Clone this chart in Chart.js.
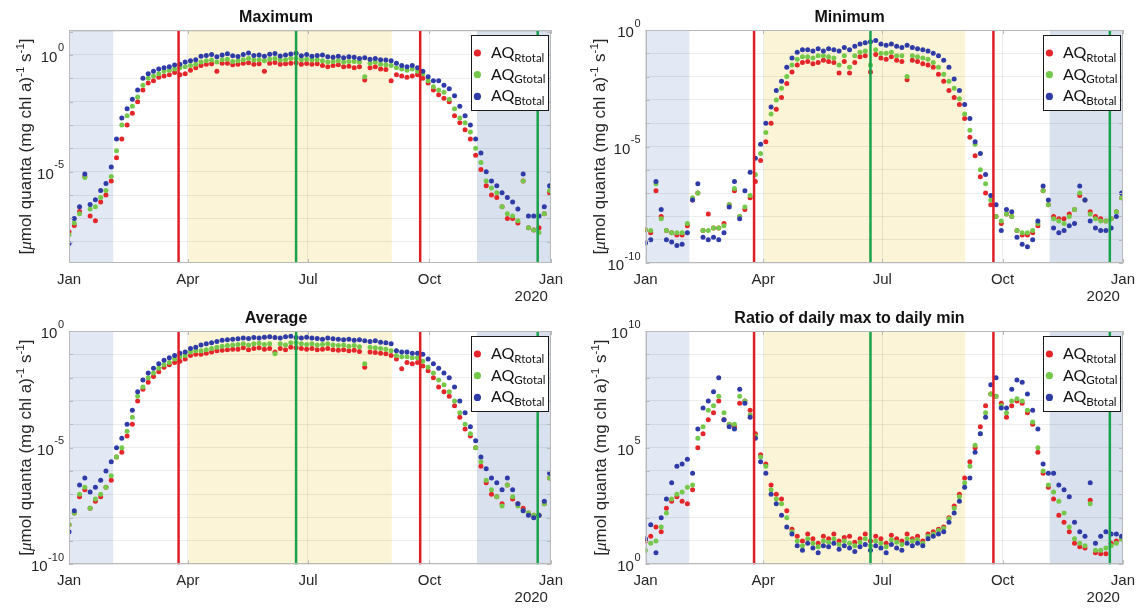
<!DOCTYPE html>
<html lang="en">
<head>
<meta charset="utf-8">
<title>AQ total - daily max, min, average and ratio</title>
<script src="https://cdn.jsdelivr.net/npm/chart.js@4.4.1/dist/chart.umd.min.js"></script>
<style>
  html, body { margin: 0; padding: 0; background: #fff; }
  #wrap { position: relative; width: 1143px; height: 608px; overflow: hidden; }
  #wrap canvas { position: absolute; }
</style>
</head>
<body>
<div id="wrap">
  <canvas id="cMax"></canvas>
  <canvas id="cMin"></canvas>
  <canvas id="cAvg"></canvas>
  <canvas id="cRat"></canvas>
</div>
<script>
// ---------------- data ----------------
// one reading every 4 days of 2019 (day 0 = 1 Jan), values are log10
const days = [];
for (let d = 0; d <= 364; d += 4) days.push(d);

// Maximum
const maxR = [
  -7.57,-7.3,-6.7,-5.2,-6.9,-7.1,-6.3,-6.0,-5.4,-4.4,
  -3.6,-3.0,-2.5,-2.0,-1.5,-1.2,-1.1,-0.95,-0.9,-0.85,
  -0.75,-0.85,-0.8,-0.65,-0.55,
  -0.45,-0.4,-0.38,-0.7,-0.35,-0.35,-0.42,-0.4,-0.35,-0.33,
  -0.4,-0.38,-0.7,-0.35,-0.32,-0.4,-0.38,-0.35,-0.33,-0.4,
  -0.36,-0.4,-0.38,-0.45,-0.5,-0.45,-0.42,-0.5,-0.48,-0.55,
  -0.5,-1.07,-0.55,-0.5,-0.6,-0.62,-1.1,
  -0.85,-0.9,-0.95,-0.9,-0.85,-1.0,-1.2,-1.5,-1.7,-1.85,
  -2.0,-2.6,-2.9,-3.2,-3.6,-4.3,-4.9,-5.6,-6.0,-6.1,
  -6.5,-7.0,-7.0,-7.2,-5.4,-7.4,-7.5,-7.4,-6.8,-5.9
];
const maxG = [
  -7.7,-7.2,-6.8,-5.25,-6.6,-6.5,-6.1,-5.8,-5.2,-4.1,
  -3.0,-2.6,-2.2,-1.8,-1.3,-1.0,-0.9,-0.8,-0.7,-0.65,
  -0.6,-0.55,-0.5,-0.45,-0.4,
  -0.3,-0.25,-0.22,-0.3,-0.2,-0.18,-0.28,-0.25,-0.2,-0.15,
  -0.22,-0.2,-0.25,-0.18,-0.15,-0.22,-0.2,-0.15,-0.15,-0.2,
  -0.18,-0.22,-0.2,-0.25,-0.3,-0.28,-0.25,-0.3,-0.28,-0.28,
  -0.3,-0.93,-0.35,-0.3,-0.4,-0.42,-0.45,
  -0.55,-0.6,-0.65,-0.6,-0.7,-0.8,-1.1,-1.36,-1.5,-1.6,
  -1.9,-2.3,-2.7,-2.9,-3.3,-4.0,-4.6,-5.4,-5.7,-5.9,
  -6.5,-6.8,-6.9,-7.1,-5.4,-7.4,-7.5,-7.6,-6.8,-5.8
];
const maxB = [
  -8.07,-7.0,-6.5,-5.1,-6.4,-6.2,-5.8,-5.5,-4.8,-3.6,
  -2.7,-2.3,-1.9,-1.5,-1.0,-0.8,-0.7,-0.6,-0.55,-0.5,
  -0.43,-0.4,-0.3,-0.25,-0.2,
  -0.05,-0.02,0.02,-0.08,0.0,0.05,-0.03,-0.06,0.02,0.08,
  -0.02,0.0,-0.05,0.03,0.06,-0.04,0.0,0.04,0.07,-0.03,
  0.02,-0.05,-0.02,0.0,-0.08,-0.1,-0.05,-0.12,-0.08,-0.1,
  -0.15,-0.12,-0.18,-0.15,-0.2,-0.22,-0.25,
  -0.35,-0.45,-0.5,-0.45,-0.55,-0.7,-0.93,-1.1,-1.1,-1.3,
  -1.45,-1.75,-2.2,-2.6,-3.0,-3.6,-4.2,-5.0,-5.4,-5.6,
  -5.9,-6.1,-6.3,-6.6,-5.1,-6.9,-6.9,-6.9,-6.5,-5.6
];

// Minimum
const minR = [
  -8.57,-8.7,-6.9,-8.0,-8.6,-8.7,-8.8,-8.8,-8.4,-7.3,
  -7.0,-8.6,-7.9,-8.5,-8.5,-8.3,-7.5,-6.9,-8.0,-7.7,
  -7.2,-6.5,-5.6,-4.8,-4.0,-3.4,-2.9,-2.3,-1.8,-1.5,
  -1.4,
  -1.35,-1.45,-1.4,-1.3,-1.35,-1.4,-1.85,-1.35,-1.85,-1.4,
  -1.15,-1.1,-1.8,-1.05,-1.2,-1.25,-1.15,
  -1.3,-1.35,-2.14,-1.3,-1.35,-1.45,-1.5,
  -1.6,-1.9,-2.2,-2.6,-2.9,-3.2,-3.8,-4.6,-5.4,-6.3,
  -7.0,-7.5,-8.0,-8.3,-7.9,-8.0,-8.6,-8.8,-8.8,-8.7,
  -8.4,-6.9,-7.5,-8.0,-8.1,-8.1,-7.9,-7.7,-7.1,-7.3,
  -7.8,-8.0,-8.1,-8.2,-8.1,-7.8,-7.2
];
const minG = [
  -8.57,-8.6,-6.6,-8.1,-8.6,-8.7,-8.7,-8.7,-8.3,-7.2,
  -7.0,-8.6,-8.6,-8.5,-8.5,-8.4,-7.5,-6.8,-8.0,-7.6,
  -7.1,-6.2,-5.3,-4.4,-3.6,-3.0,-2.5,-2.0,-1.5,-1.25,
  -1.15,
  -1.15,-1.2,-1.1,-1.1,-1.15,-1.2,-1.5,-1.1,-1.6,-1.1,
  -0.95,-0.9,-1.5,-0.85,-1.0,-1.0,-0.95,
  -1.1,-1.1,-2.0,-1.1,-1.15,-1.2,-1.25,
  -1.4,-1.6,-1.9,-2.2,-2.5,-2.95,-3.6,-4.3,-4.9,-6.0,
  -6.6,-7.3,-8.0,-8.2,-7.9,-8.0,-8.6,-8.7,-8.7,-8.6,
  -8.3,-6.9,-7.5,-8.1,-8.2,-8.3,-8.0,-7.7,-7.0,-7.3,
  -7.9,-8.1,-8.2,-8.2,-8.1,-7.8,-7.2
];
const minB = [
  -9.14,-9.0,-6.5,-7.7,-9.0,-9.1,-9.25,-9.2,-8.7,-7.3,
  -6.6,-8.9,-9.0,-8.9,-9.0,-8.7,-7.6,-6.5,-8.1,-6.9,
  -6.1,-5.5,-4.9,-4.0,-3.3,-2.6,-2.2,-1.6,-1.2,-0.95,
  -0.85,
  -0.85,-0.9,-0.8,-0.9,-0.8,-0.85,-0.9,-0.75,-0.85,-0.7,
  -0.6,-0.55,-0.5,-0.45,-0.6,-0.65,-0.6,
  -0.7,-0.75,-0.65,-0.75,-0.8,-0.85,-0.9,
  -1.0,-1.1,-1.3,-1.6,-2.1,-2.6,-3.2,-3.8,-4.8,-5.3,
  -6.2,-7.1,-7.5,-8.6,-7.7,-7.8,-8.9,-9.2,-9.3,-9.0,
  -8.2,-6.7,-7.3,-8.5,-8.7,-8.6,-8.4,-8.3,-6.7,-7.3,
  -8.2,-8.5,-8.6,-8.6,-8.5,-8.0,-7.0
];

// Average
const avgR = [
  -8.3,-7.8,-7.1,-6.8,-7.6,-7.3,-7.1,-6.7,-6.4,-5.4,
  -5.2,-4.5,-4.0,-3.0,-2.5,-2.2,-1.95,-1.75,-1.55,-1.45,
  -1.35,-1.3,-1.2,-1.05,-1.0,
  -1.0,-0.95,-0.9,-0.85,-0.82,-0.8,-0.78,-0.78,-0.72,-0.8,
  -0.75,-0.72,-0.78,-0.75,-0.9,-0.75,-0.8,-0.7,-0.72,-0.75,
  -0.78,
  -0.75,-0.8,-0.78,-0.75,-0.8,-0.82,-0.8,-0.85,-0.82,-0.88,
  -1.55,-0.9,-0.92,-0.95,-0.98,-1.05,
  -1.2,-1.62,-1.35,-1.4,-1.35,
  -1.5,-1.7,-2.0,-2.4,-2.6,-2.8,-3.2,-3.7,-4.2,-4.5,
  -5.0,-5.8,-6.5,-7.0,-7.1,-7.4,-6.6,-7.2,-7.4,-7.6,
  -7.8,-7.9,-7.9,-7.4,-6.3
];
const avgG = [
  -8.3,-7.8,-7.0,-6.7,-7.6,-7.2,-7.0,-6.7,-6.2,-5.4,
  -5.0,-4.3,-3.7,-2.8,-2.4,-2.0,-1.8,-1.6,-1.45,-1.35,
  -1.2,-1.1,-1.05,-0.9,-0.85,
  -0.85,-0.8,-0.75,-0.7,-0.65,-0.62,-0.6,-0.58,-0.55,-0.6,
  -0.55,-0.52,-0.58,-0.55,-0.97,-0.55,-0.6,-0.5,-0.5,-0.55,
  -0.58,
  -0.55,-0.6,-0.58,-0.55,-0.6,-0.62,-0.6,-0.65,-0.62,-0.68,
  -1.4,-0.7,-0.72,-0.75,-0.78,-0.85,
  -1.05,-1.1,-1.1,-1.15,-1.15,
  -1.3,-1.55,-1.8,-2.1,-2.3,-2.6,-3.0,-3.5,-4.0,-4.4,
  -5.0,-5.6,-6.4,-6.8,-7.1,-7.5,-6.6,-7.1,-7.5,-7.7,
  -7.8,-7.9,-7.9,-7.4,-6.3
];
const avgB = [
  -8.6,-7.7,-6.6,-6.3,-6.9,-6.7,-6.4,-6.0,-5.6,-5.0,
  -4.6,-4.0,-3.4,-2.6,-2.1,-1.8,-1.6,-1.4,-1.25,-1.15,
  -1.05,-0.95,-0.9,-0.75,-0.7,
  -0.6,-0.55,-0.5,-0.45,-0.4,-0.38,-0.35,-0.33,-0.3,-0.32,
  -0.28,-0.3,-0.27,-0.25,-0.28,-0.3,-0.25,-0.22,-0.28,-0.3,
  -0.27,
  -0.3,-0.32,-0.35,-0.3,-0.33,-0.35,-0.38,-0.35,-0.4,-0.38,
  -0.42,-0.45,-0.42,-0.48,-0.5,-0.55,
  -0.85,-0.9,-0.9,-0.95,-0.95,
  -1.0,-1.2,-1.4,-1.6,-1.8,-2.0,-2.4,-3.0,-3.5,-4.1,
  -4.7,-5.4,-5.9,-6.3,-6.5,-6.8,-6.3,-6.8,-7.4,-7.7,
  -7.9,-8.0,-7.9,-7.3,-6.1
];

// Ratio of daily max to daily min
const ratR = [
  1.0,1.2,1.6,1.4,2.4,2.7,2.9,2.7,2.6,3.2,
  5.0,5.6,6.2,6.5,7.0,6.2,6.0,5.9,6.9,7.0,
  6.6,5.6,4.7,4.3,3.4,3.0,2.8,2.3,1.5,
  1.2,1.0,1.3,1.1,0.9,1.2,1.1,1.3,1.0,1.15,
  1.2,0.95,1.1,1.3,1.0,1.2,1.1,0.9,1.25,1.1,
  1.0,1.3,1.1,1.2,1.0,1.3,1.4,
  1.5,1.6,2.0,2.5,3.0,3.7,4.4,5.0,5.9,6.8,
  7.3,7.2,6.9,6.3,6.8,7.0,6.9,6.5,6.0,4.8,
  3.9,3.3,2.8,2.1,1.8,1.4,0.9,0.75,0.7,2.75,
  0.5,0.45,0.45,0.9,1.0,1.1
];
const ratG = [
  0.6,0.9,1.0,1.6,2.2,2.8,3.0,3.1,3.3,3.4,
  5.4,5.9,6.6,6.8,7.2,6.5,6.0,6.0,7.2,7.0,
  6.4,5.5,4.6,4.2,3.2,2.8,2.6,2.0,1.4,
  1.0,0.8,1.1,0.9,0.75,1.0,0.95,1.1,0.85,1.0,
  0.9,0.8,0.95,1.1,0.8,1.0,0.9,0.75,1.05,0.95,
  0.85,1.1,1.0,1.05,0.9,1.2,1.3,
  1.45,1.55,1.95,2.4,2.9,3.5,4.2,5.1,5.6,6.5,
  7.3,7.2,6.8,6.5,7.0,7.1,7.0,6.6,6.1,5.0,
  4.0,3.4,3.1,2.7,2.2,1.6,1.1,0.9,0.8,2.6,
  0.6,0.6,0.7,0.8,0.9,1.1
];
const ratB = [
  1.1,1.7,0.5,2.0,2.8,3.5,4.2,4.3,4.5,3.9,
  5.8,6.7,7.0,7.4,8.0,6.2,5.9,5.8,7.5,6.9,
  6.3,5.4,4.4,3.9,3.0,2.6,2.1,1.6,1.3,
  0.8,0.6,0.9,0.7,0.5,0.8,0.75,0.9,0.65,0.8,
  0.7,0.55,0.75,0.85,0.6,0.8,0.7,0.5,0.85,0.7,
  0.6,0.9,0.8,0.9,0.8,1.1,1.2,
  1.3,1.4,1.8,2.2,2.7,3.3,3.7,4.8,5.6,6.3,
  7.7,8.0,6.7,6.7,7.5,7.9,7.8,7.3,6.6,5.8,
  4.3,3.9,3.9,3.4,3.2,2.9,1.8,1.4,1.2,3.5,
  0.9,1.2,1.4,1.3,1.3,1.2
];

// axis ticks and seasons (day of year)
const monthTicks = [0, 90, 181, 273, 365];
const monthLabels = ["Jan", "Apr", "Jul", "Oct", "Jan"];
const winterEarly = [0, 33.5];
const winterLate = [309, 365];
const summer = [90.5, 244.5];
const equinoxDays = [83, 266];
const solsticeDays = [172, 355];
const seriesSubs = ["Rtotal", "Gtotal", "Btotal"];
const seriesColors = ["#e4262a", "#74c94b", "#2f3ba7"];

// ---------------- drawing ----------------
const fontFamily = '"Liberation Sans", Arial, Helvetica, sans-serif';
const textColor = "#262626";
const edgeColor = "#b9b9b9";

function toPoints(vals, name) {
  if (vals.length !== days.length) throw new Error(name + " has " + vals.length + " values, expected " + days.length);
  return vals.map((v, i) => ({ x: days[i], y: Math.pow(10, v) }));
}

// "10" with a raised exponent, right aligned at xr
function drawPow(ctx, exp, xr, y) {
  const e = String(exp);
  ctx.font = "15px " + fontFamily;
  const wb = ctx.measureText("10").width;
  ctx.font = "11px " + fontFamily;
  const we = ctx.measureText(e).width;
  const x0 = xr - wb - we - 0.5;
  ctx.fillStyle = textColor;
  ctx.textAlign = "left";
  ctx.textBaseline = "alphabetic";
  ctx.font = "15px " + fontFamily;
  ctx.fillText("10", x0, y + 7);
  ctx.font = "11px " + fontFamily;
  ctx.fillText(e, x0 + wb + 0.5, y - 3.5);
}

// y label with superscripts, drawn rotated
function drawYTitle(ctx, cx, cy) {
  const parts = [
    { t: "[", f: "17px " + fontFamily, dy: 0 },
    { t: "\u03bc", f: "italic 17px 'Liberation Serif', serif", dy: 0 },
    { t: "mol quanta (mg chl a)", f: "17px " + fontFamily, dy: 0 },
    { t: "-1", f: "11.5px " + fontFamily, dy: -7.5 },
    { t: " s", f: "17px " + fontFamily, dy: 0 },
    { t: "-1", f: "11.5px " + fontFamily, dy: -7.5 },
    { t: "]", f: "17px " + fontFamily, dy: 0 }
  ];
  ctx.save();
  ctx.translate(cx, cy);
  ctx.rotate(-Math.PI / 2);
  let total = 0;
  parts.forEach(p => { ctx.font = p.f; p.w = ctx.measureText(p.t).width; total += p.w; });
  let x = -total / 2;
  ctx.fillStyle = textColor;
  ctx.textAlign = "left";
  ctx.textBaseline = "alphabetic";
  parts.forEach(p => { ctx.font = p.f; ctx.fillText(p.t, x, 6 + p.dy); x += p.w; });
  ctx.restore();
}

function drawLegend(ctx, a) {
  const w = 77, h = 75;
  const left = a.right - 3 - w, top = a.top + 5;
  ctx.save();
  ctx.fillStyle = "#fff";
  ctx.fillRect(left, top, w, h);
  ctx.strokeStyle = "#1a1a1a";
  ctx.lineWidth = 1;
  ctx.strokeRect(Math.round(left) + 0.5, Math.round(top) + 0.5, w, h);
  seriesSubs.forEach((sub, i) => {
    const base = top + 23 + i * 21.7;
    ctx.fillStyle = seriesColors[i];
    ctx.beginPath();
    ctx.arc(left + 6.5, base - 5, 3.6, 0, Math.PI * 2);
    ctx.fill();
    ctx.fillStyle = "#111";
    ctx.textAlign = "left";
    ctx.textBaseline = "alphabetic";
    ctx.font = "16px Lato, 'Open Sans', sans-serif";
    ctx.fillText("AQ", left + 20, base);
    const wq = ctx.measureText("AQ").width;
    ctx.font = "11.5px Lato, 'Open Sans', sans-serif";
    ctx.fillText(sub, left + 20 + wq, base + 3.5);
  });
  ctx.restore();
}

const decor = {
  id: "decor",
  beforeDraw(chart) {
    const { ctx, chartArea: a, scales: { x } } = chart;
    const shade = (range, col) => {
      const x0 = Math.max(a.left, x.getPixelForValue(range[0]));
      const x1 = Math.min(a.right, x.getPixelForValue(range[1]));
      ctx.fillStyle = col;
      ctx.fillRect(x0, a.top, x1 - x0, a.bottom - a.top);
    };
    ctx.save();
    shade(winterEarly, "#e2e9f4");
    shade(winterLate, "#d9e1ee");
    shade(summer, "#fcf4d6");
    ctx.restore();
  },
  afterDatasetsDraw(chart) {
    const { ctx, chartArea: a, scales: { x, y } } = chart;
    ctx.save();
    // season marker lines
    ctx.lineWidth = 2.5;
    const vline = (d, col) => {
      const px = x.getPixelForValue(d);
      ctx.strokeStyle = col;
      ctx.beginPath();
      ctx.moveTo(px, a.top);
      ctx.lineTo(px, a.bottom);
      ctx.stroke();
    };
    equinoxDays.forEach(d => vline(d, "#df1f26"));
    solsticeDays.forEach(d => vline(d, "#18a24a"));
    // axes box and inside ticks
    ctx.strokeStyle = edgeColor;
    ctx.lineWidth = 1;
    ctx.strokeRect(Math.round(a.left) + 0.5, Math.round(a.top) + 0.5,
                   Math.round(a.right - a.left) - 1, Math.round(a.bottom - a.top) - 1);
    ctx.beginPath();
    y.ticks.forEach(t => {
      const py = Math.round(y.getPixelForValue(t.value)) + 0.5;
      ctx.moveTo(a.left, py); ctx.lineTo(a.left + 4, py);
      ctx.moveTo(a.right, py); ctx.lineTo(a.right - 4, py);
    });
    x.ticks.forEach(t => {
      const px = Math.round(x.getPixelForValue(t.value)) + 0.5;
      ctx.moveTo(px, a.bottom); ctx.lineTo(px, a.bottom - 4);
      ctx.moveTo(px, a.top); ctx.lineTo(px, a.top + 4);
    });
    ctx.stroke();
    ctx.restore();
  },
  afterDraw(chart, args, opts) {
    const { ctx, chartArea: a, scales: { y } } = chart;
    ctx.save();
    opts.yLabels.forEach(e => drawPow(ctx, e, a.left - 5, y.getPixelForValue(Math.pow(10, e))));
    drawYTitle(ctx, opts.titleX, (a.top + a.bottom) / 2);
    ctx.fillStyle = textColor;
    ctx.font = "15px " + fontFamily;
    ctx.textAlign = "right";
    ctx.textBaseline = "middle";
    ctx.fillText("2020", a.right - 3, a.bottom + 34);
    ctx.restore();
    drawLegend(ctx, a);
  }
};

const panels = [
  { id: "cMax", title: "Maximum", series: [[maxR, "maxR"], [maxG, "maxG"], [maxB, "maxB"]],
    yMin: -8.91, yMax: 1.07, yLabels: [0, -5],
    box: [0, 0, 571, 305], area: [69, 30, 552, 263], titleX: 25 },
  { id: "cMin", title: "Minimum", series: [[minR, "minR"], [minG, "minG"], [minB, "minB"]],
    yMin: -10, yMax: 0, yLabels: [0, -5, -10],
    box: [571, 0, 572, 305], area: [74.5, 30, 557, 263], titleX: 28 },
  { id: "cAvg", title: "Average", series: [[avgR, "avgR"], [avgG, "avgG"], [avgB, "avgB"]],
    yMin: -10, yMax: 0, yLabels: [0, -5, -10],
    box: [0, 303, 571, 305], area: [69, 28, 552, 261.3], titleX: 25 },
  { id: "cRat", title: "Ratio of daily max to daily min", series: [[ratR, "ratR"], [ratG, "ratG"], [ratB, "ratB"]],
    yMin: 0, yMax: 10, yLabels: [10, 5, 0],
    box: [571, 303, 572, 305], area: [74.5, 28, 557, 261.3], titleX: 29 }
];

panels.forEach(p => {
  const cv = document.getElementById(p.id);
  const [bx, by, bw, bh] = p.box;
  const [al, at, ar, ab] = p.area;
  cv.width = bw; cv.height = bh;
  cv.style.left = bx + "px"; cv.style.top = by + "px";
  cv.style.width = bw + "px"; cv.style.height = bh + "px";

  const datasets = p.series.map((s, i) => ({
    label: "AQ" + seriesSubs[i],
    data: toPoints(s[0], s[1]),
    backgroundColor: seriesColors[i],
    borderWidth: 0,
    pointRadius: 2.5,
    pointHoverRadius: 2.5,
    order: 2 - i // blue drawn on top
  }));

  new Chart(cv, {
    type: "scatter",
    data: { datasets },
    plugins: [decor],
    options: {
      responsive: false,
      animation: false,
      devicePixelRatio: 1,
      events: [],
      layout: { padding: { left: 0, top: 0, right: bw - ar, bottom: 0 } },
      plugins: {
        legend: { display: false },
        tooltip: { enabled: false },
        title: {
          display: true,
          text: p.title,
          color: "#111",
          font: { family: fontFamily, size: 16, weight: "bold", lineHeight: 1.2 },
          padding: { top: at - 19.2 - 3, bottom: 3 }
        },
        decor: { yLabels: p.yLabels, titleX: p.titleX }
      },
      scales: {
        x: {
          type: "linear",
          min: 0,
          max: 365,
          afterBuildTicks: s => { s.ticks = monthTicks.map(v => ({ value: v })); },
          afterFit: s => { s.height = bh - ab; },
          ticks: {
            autoSkip: false, maxRotation: 0, minRotation: 0, padding: 8,
            color: textColor, font: { family: fontFamily, size: 15 },
            callback: v => monthLabels[monthTicks.indexOf(v)]
          },
          grid: { color: "rgba(0,0,0,0.07)", drawTicks: false },
          border: { display: false }
        },
        y: {
          type: "logarithmic",
          min: Math.pow(10, p.yMin),
          max: Math.pow(10, p.yMax),
          afterBuildTicks: s => {
            const t = [];
            for (let e = Math.ceil(p.yMin); e <= Math.floor(p.yMax); e++) t.push({ value: Math.pow(10, e) });
            s.ticks = t;
          },
          afterFit: s => { s.width = al; },
          ticks: { display: false },
          grid: { color: "rgba(0,0,0,0.07)", drawTicks: false },
          border: { display: false }
        }
      }
    }
  });
});
</script>
</body>
</html>
